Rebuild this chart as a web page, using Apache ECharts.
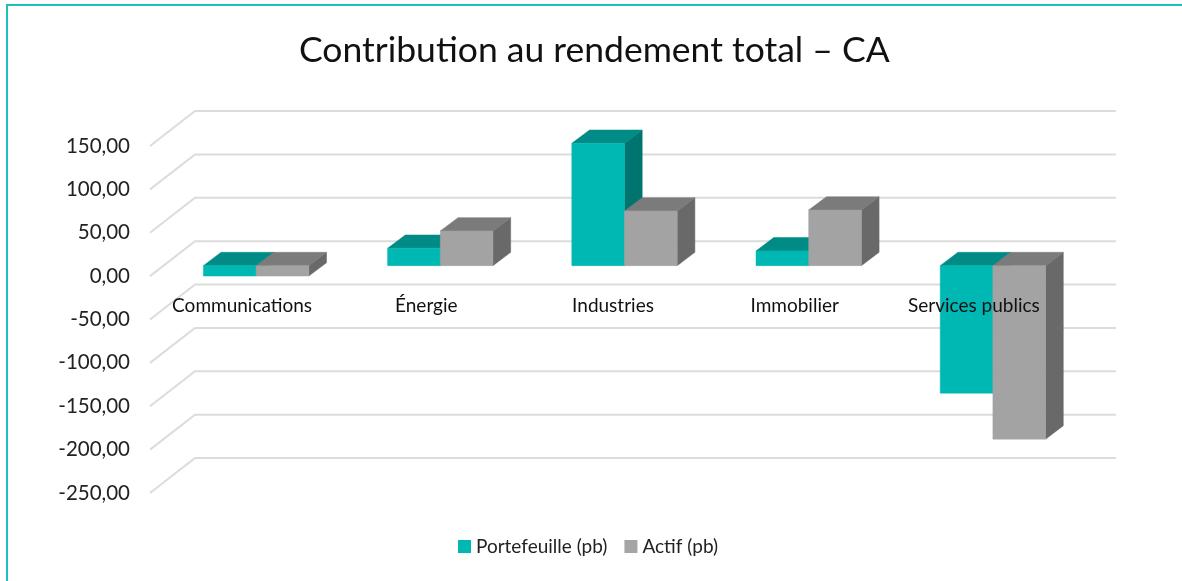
<!DOCTYPE html>
<html>
<head>
<meta charset="utf-8">
<style>
  html, body { margin: 0; padding: 0; background: #fff; }
  #chart { width: 1182px; height: 581px; }
</style>
<script src="https://cdn.jsdelivr.net/npm/echarts@6/dist/echarts.min.js"></script>
</head>
<body>
<div id="chart"></div>
<script>
var categories = ['Communications', 'Énergie', 'Industries', 'Immobilier', 'Services publics']
var portefeuille = [-12, 20, 141, 17, -147]
var actif = [-12, 40, 63, 64, -200]
var yTicks = [150, 100, 50, 0, -50, -100, -150, -200, -250]

var FONT = 'Lato, "Open Sans", sans-serif'
// fake 3d : the walls go back by this offset, the bars sit in the middle of it
var WALL_DX = 45
var WALL_DY = -35
var BAR_DX = 17.7
var BAR_DY = -13.3
var BAR_SHIFT_X = 14
var BAR_SHIFT_Y = -10.5
var BAR_RATIO = 0.286
// the labels are not quite centred on their band in the original
var LABEL_PADDING = { 'Industries': [0, 0, 0, 5], 'Services publics': [0, 10, 0, 0] }

function wallItem (params, api) {
  var rect = params.coordSys
  var p = api.coord([0, api.value(1)])
  return {
    type: 'polyline',
    shape: {
      points: [
        [rect.x, p[1]],
        [rect.x + WALL_DX, p[1] + WALL_DY],
        [rect.x + rect.width + WALL_DX, p[1] + WALL_DY]
      ]
    },
    style: { stroke: '#dcdcdc', lineWidth: 2, fill: null },
    silent: true
  }
}

function poly (points, color) {
  return { type: 'polygon', shape: { points: points }, style: { fill: color, stroke: color, lineWidth: 0.5 } }
}

// side : 0 is the left bar of the pair, 1 the right one
function barRenderer (side, colors) {
  return function (params, api) {
    var cat = api.value(0)
    var top = api.coord([cat, Math.max(api.value(1), 0)])
    var bottom = api.coord([cat, Math.min(api.value(1), 0)])
    var w = api.size([1, 0])[0] * BAR_RATIO
    var x0 = top[0] + BAR_SHIFT_X + (side - 1) * w
    var x1 = x0 + w
    var y0 = top[1] + BAR_SHIFT_Y
    var y1 = bottom[1] + BAR_SHIFT_Y
    return {
      type: 'group',
      children: [
        poly([[x1, y0], [x1 + BAR_DX, y0 + BAR_DY], [x1 + BAR_DX, y1 + BAR_DY], [x1, y1]], colors.side),
        poly([[x0, y0], [x0 + BAR_DX, y0 + BAR_DY], [x1 + BAR_DX, y0 + BAR_DY], [x1, y0]], colors.top),
        poly([[x0, y0], [x1, y0], [x1, y1], [x0, y1]], colors.front)
      ]
    }
  }
}

function toPairs (values) {
  return values.map(function (v, i) { return [i, v] })
}

var chart = echarts.init(document.getElementById('chart'))
chart.setOption({
  animation: false,
  backgroundColor: '#fff',
  title: {
    text: 'Contribution au rendement total – CA',
    left: 294,
    top: 28,
    textStyle: { fontFamily: FONT, fontSize: 35.5, fontWeight: 'normal', color: '#111' }
  },
  legend: {
    data: ['Portefeuille (pb)', 'Actif (pb)'],
    left: 453,
    top: 532,
    icon: 'rect',
    itemWidth: 13,
    itemHeight: 13,
    itemGap: 17,
    textStyle: { fontFamily: FONT, fontSize: 19, color: '#222' }
  },
  grid: { left: 150, right: 111, top: 146, bottom: 88 },
  xAxis: {
    type: 'category',
    data: categories.map(function (c) {
      return LABEL_PADDING[c] ? { value: c, textStyle: { padding: LABEL_PADDING[c] } } : c
    }),
    z: 10,
    // onZero does not move the labels here, so lift the axis up to the 0 line of the front plane
    offset: -217,
    axisLine: { show: false, onZero: false },
    axisTick: { show: false },
    axisLabel: { interval: 0, margin: 20, fontFamily: FONT, fontSize: 19, color: '#111' }
  },
  yAxis: {
    type: 'value',
    min: -250,
    max: 150,
    interval: 50,
    splitLine: { show: false },
    axisLine: { show: false },
    axisTick: { show: false },
    axisLabel: {
      margin: 20,
      fontFamily: FONT,
      fontSize: 20.5,
      color: '#222',
      formatter: function (v) { return v.toFixed(2).replace('.', ',') }
    }
  },
  series: [
    {
      name: 'walls',
      type: 'custom',
      z: 1,
      silent: true,
      renderItem: wallItem,
      encode: { x: 0, y: 1 },
      data: yTicks.map(function (v) { return [0, v] })
    },
    {
      name: 'Portefeuille (pb)',
      type: 'custom',
      z: 2,
      itemStyle: { color: '#00b8b3' },
      renderItem: barRenderer(0, { front: '#00b8b3', top: '#008b86', side: '#007570' }),
      encode: { x: 0, y: 1 },
      data: toPairs(portefeuille)
    },
    {
      name: 'Actif (pb)',
      type: 'custom',
      z: 3,
      itemStyle: { color: '#a5a5a5' },
      renderItem: barRenderer(1, { front: '#a3a3a3', top: '#7b7b7b', side: '#696969' }),
      encode: { x: 0, y: 1 },
      data: toPairs(actif)
    }
  ],
  graphic: [
    {
      type: 'polyline',
      shape: { points: [[7, 581], [7, 5], [1182, 5]] },
      style: { stroke: '#1fbfba', lineWidth: 2, fill: null },
      silent: true
    }
  ]
})
</script>
</body>
</html>
